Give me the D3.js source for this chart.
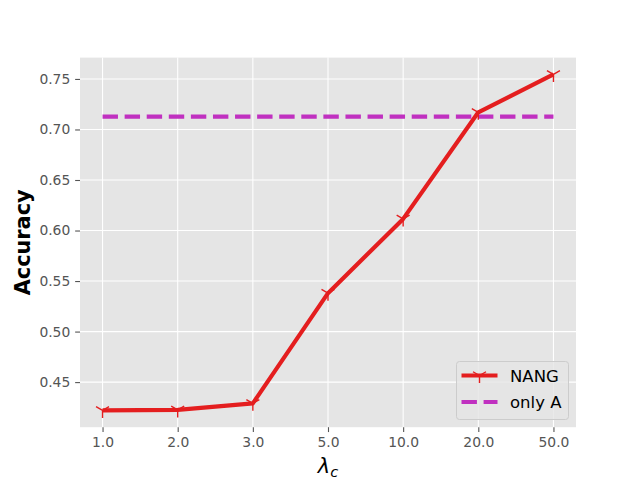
<!DOCTYPE html>
<html>
<head>
<meta charset="utf-8">
<script src="https://cdn.jsdelivr.net/npm/d3@7"></script>
<style>
  body { margin: 0; background: #fff; }
  svg { display: block; font-family: "DejaVu Sans", sans-serif; }
</style>
</head>
<body>
<div id="box"></div>
<script>
// values
const categories = ['1.0', '2.0', '3.0', '5.0', '10.0', '20.0', '50.0'];
const nangValues = [0.422, 0.4225, 0.429, 0.538, 0.6115, 0.717, 0.7545];
const onlyAValues = [0.7127, 0.7127, 0.7127, 0.7127, 0.7127, 0.7127, 0.7127];
const yTicks = [0.45, 0.50, 0.55, 0.60, 0.65, 0.70, 0.75];
const seriesNames = ['NANG', 'only A'];

const width = 640, height = 480;
const margin = { left: 80, right: 64, top: 57.6, bottom: 52.8 };
const pt = 100 / 72;

const svg = d3.select('#box').append('svg')
  .attr('width', width)
  .attr('height', height);

const iw = width - margin.left - margin.right;
const ih = height - margin.top - margin.bottom;

// matplotlib style 5% margins
const n = categories.length;
const xPad = (n - 1) * 0.05;
const xScale = d3.scaleLinear().domain([-xPad, n - 1 + xPad]).range([margin.left, margin.left + iw]);

const all = nangValues.concat(onlyAValues);
const yMin = d3.min(all), yMax = d3.max(all);
const yPad = (yMax - yMin) * 0.05;
const yScale = d3.scaleLinear().domain([yMin - yPad, yMax + yPad]).range([margin.top + ih, margin.top]);

// background
svg.append('rect')
  .attr('x', margin.left).attr('y', margin.top)
  .attr('width', iw).attr('height', ih)
  .attr('fill', '#e5e5e5');

// grid
const grid = svg.append('g').attr('stroke', '#fff').attr('stroke-width', 1.1);
grid.selectAll('.gx').data(categories).enter().append('line')
  .attr('x1', (d, i) => xScale(i)).attr('x2', (d, i) => xScale(i))
  .attr('y1', margin.top).attr('y2', margin.top + ih);
grid.selectAll('.gy').data(yTicks).enter().append('line')
  .attr('y1', d => yScale(d)).attr('y2', d => yScale(d))
  .attr('x1', margin.left).attr('x2', margin.left + iw);

// axes
const xAxis = d3.axisBottom(xScale)
  .tickValues(d3.range(n))
  .tickFormat(i => categories[i])
  .tickSize(3.5 * pt).tickPadding(3.5 * pt);
const yAxis = d3.axisLeft(yScale)
  .tickValues(yTicks)
  .tickFormat(d3.format('.2f'))
  .tickSize(3.5 * pt).tickPadding(3.5 * pt);

const gx = svg.append('g')
  .attr('transform', `translate(0, ${margin.top + ih})`)
  .call(xAxis);
const gy = svg.append('g')
  .attr('transform', `translate(${margin.left}, 0)`)
  .call(yAxis);

[gx, gy].forEach(g => {
  g.select('.domain').remove();
  g.selectAll('.tick line').attr('stroke', '#555').attr('stroke-width', 1.1);
  g.selectAll('.tick text')
    .attr('fill', '#555')
    .style('font-size', (10 * pt) + 'px')
    .style('font-family', '"DejaVu Sans", sans-serif');
});

// only A dashed line
const line = d3.line().x((d, i) => xScale(i)).y(d => yScale(d));
const lw = 3 * pt;

svg.append('path')
  .datum(onlyAValues)
  .attr('d', line)
  .attr('fill', 'none')
  .attr('stroke', '#c030c0')
  .attr('stroke-width', lw)
  .attr('stroke-dasharray', `${3.7 * lw} ${1.6 * lw}`);

// NANG line
const red = '#e41e1f';
svg.append('path')
  .datum(nangValues)
  .attr('d', line)
  .attr('fill', 'none')
  .attr('stroke', red)
  .attr('stroke-width', lw)
  .attr('stroke-linejoin', 'round');

// tri_down markers
function triDown(r) {
  const a = r * Math.sqrt(3) / 2, b = r / 2;
  return `M0,0L0,${r}M0,0L${a},${-b}M0,0L${-a},${-b}`;
}
svg.selectAll('.mk').data(nangValues).enter().append('path')
  .attr('transform', (d, i) => `translate(${xScale(i)}, ${yScale(d)})`)
  .attr('d', triDown(7.5))
  .attr('fill', 'none')
  .attr('stroke', red)
  .attr('stroke-width', 1.4);

// axis labels
svg.append('text')
  .text('Accuracy')
  .attr('transform', `translate(30, ${margin.top + ih / 2}) rotate(-90)`)
  .attr('text-anchor', 'middle')
  .style('font-size', (15 * pt) + 'px')
  .style('font-weight', 'bold')
  .attr('fill', '#000');

const xl = svg.append('text')
  .attr('x', margin.left + iw / 2)
  .attr('y', 473)
  .attr('text-anchor', 'middle')
  .attr('fill', '#000')
  .style('font-size', (15 * pt) + 'px');
xl.append('tspan').text('λ').style('font-style', 'italic');
xl.append('tspan').text('c').style('font-style', 'italic')
  .style('font-size', (10.5 * pt) + 'px').attr('dy', 4);

// legend
const lg = svg.append('g').attr('transform', 'translate(456.5, 361.5)');
lg.append('rect')
  .attr('width', 112).attr('height', 58)
  .attr('rx', 3).attr('ry', 3)
  .attr('fill', '#e5e5e5').attr('fill-opacity', 0.8)
  .attr('stroke', '#cccccc').attr('stroke-width', 1);

const rows = [
  { name: seriesNames[0], y: 14, dash: null, color: red },
  { name: seriesNames[1], y: 40.5, dash: `${3.7 * lw} ${1.6 * lw}`, color: '#c030c0' }
];
rows.forEach((r, k) => {
  lg.append('line')
    .attr('x1', 5).attr('x2', 41)
    .attr('y1', r.y).attr('y2', r.y)
    .attr('stroke', r.color)
    .attr('stroke-width', lw)
    .attr('stroke-dasharray', r.dash);
  if (k === 0) {
    lg.append('path')
      .attr('transform', `translate(23, ${r.y})`)
      .attr('d', triDown(7.5))
      .attr('fill', 'none')
      .attr('stroke', red)
      .attr('stroke-width', 1.4);
  }
  lg.append('text')
    .text(r.name)
    .attr('x', 53.5).attr('y', r.y + 6)
    .attr('fill', '#000')
    .style('font-size', '16.5px');
});
</script>
</body>
</html>
